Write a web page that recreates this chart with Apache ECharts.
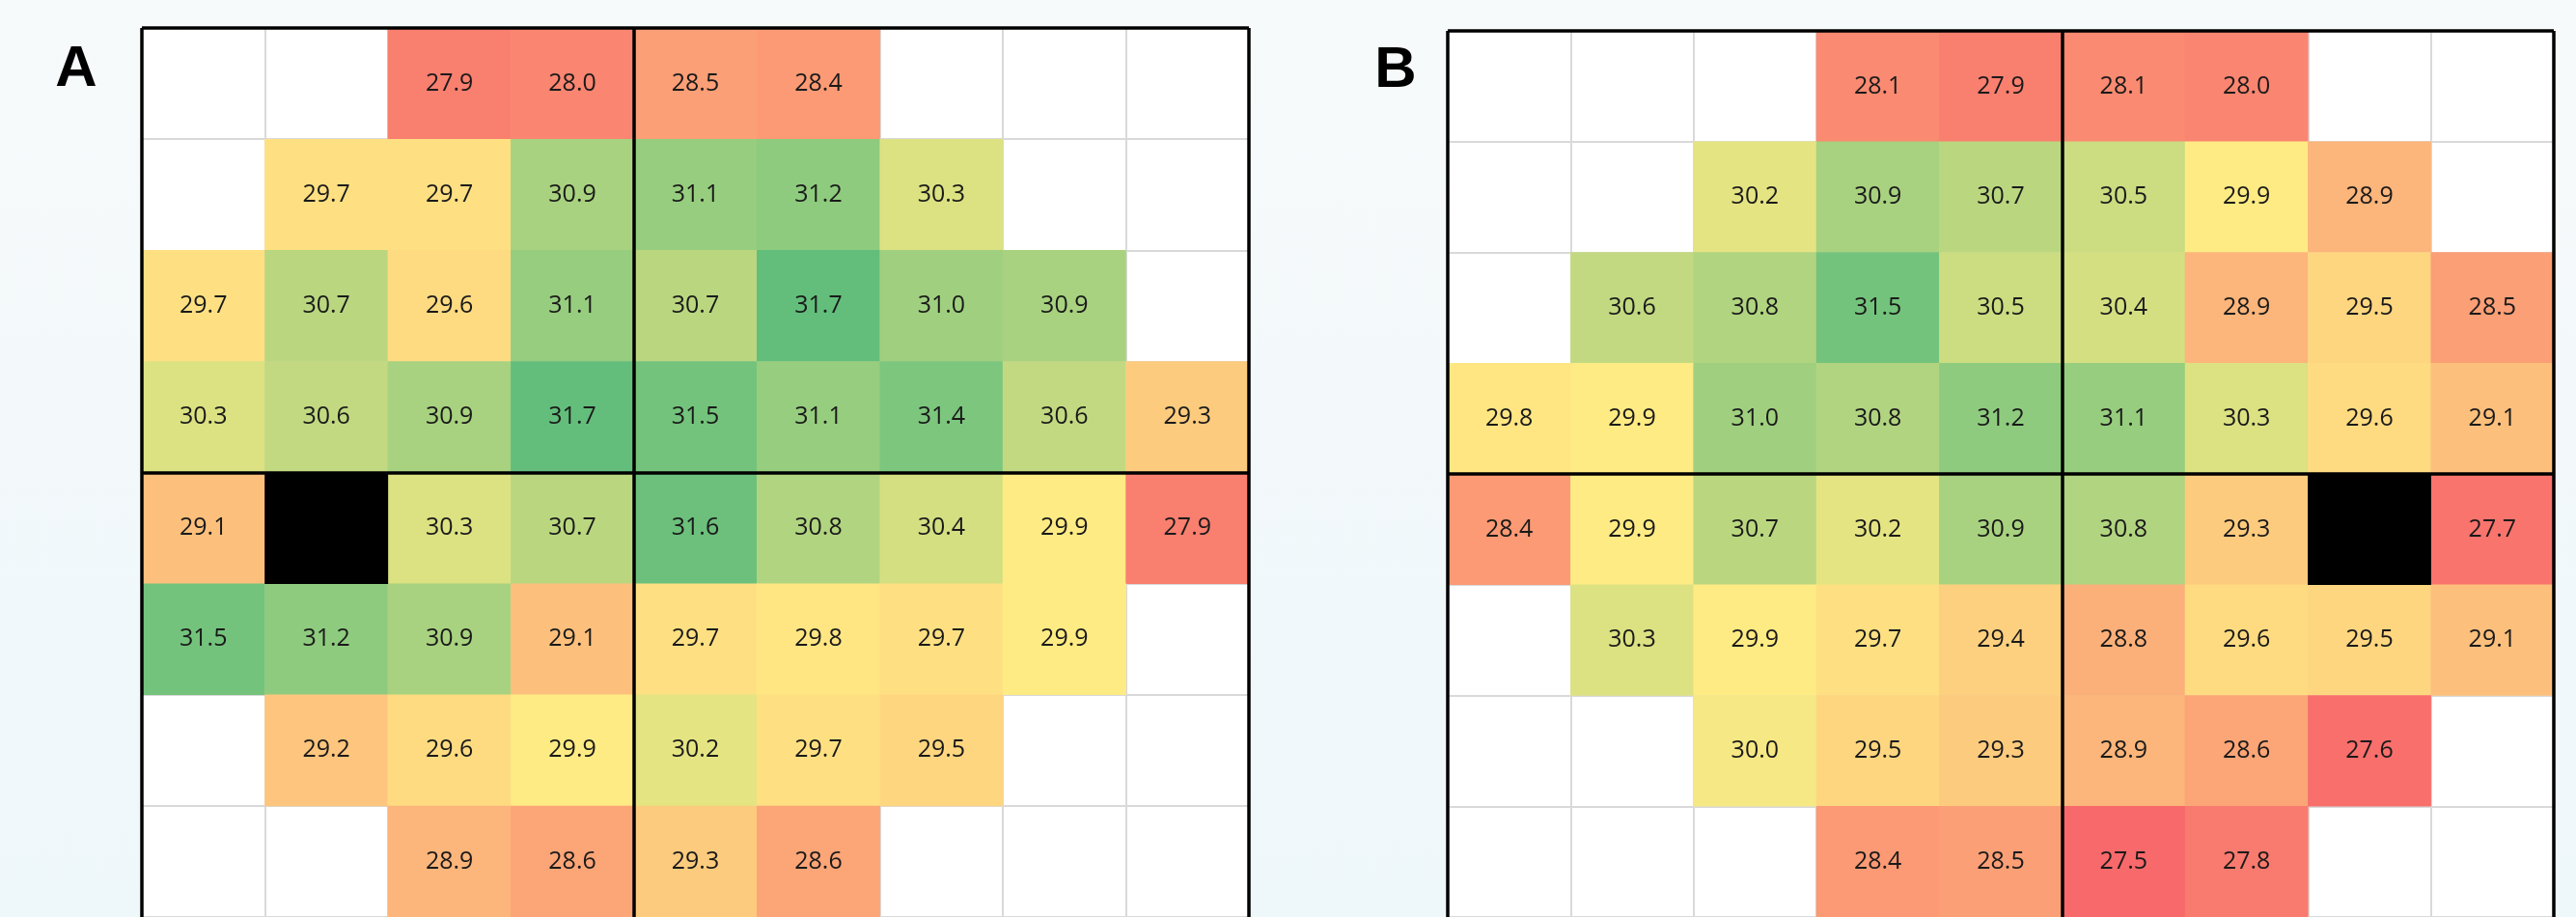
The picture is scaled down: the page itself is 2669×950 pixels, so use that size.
<!DOCTYPE html>
<html>
<head>
<meta charset="utf-8">
<script src="https://cdn.jsdelivr.net/npm/echarts@6/dist/echarts.min.js"></script>
<style>
  html, body { margin: 0; padding: 0; }
  body { background: linear-gradient(to bottom, #f7fafb, #eef7fa); }
  #main { width: 2669px; height: 950px; }
</style>
</head>
<body>
<div id="main"></div>
<script>
// grid values, top row first; null = not tested, 'X' = blind spot
var panelA = [
  [null, null, 27.9, 28.0, 28.5, 28.4, null, null, null],
  [null, 29.7, 29.7, 30.9, 31.1, 31.2, 30.3, null, null],
  [29.7, 30.7, 29.6, 31.1, 30.7, 31.7, 31.0, 30.9, null],
  [30.3, 30.6, 30.9, 31.7, 31.5, 31.1, 31.4, 30.6, 29.3],
  [29.1, 'X', 30.3, 30.7, 31.6, 30.8, 30.4, 29.9, 27.9],
  [31.5, 31.2, 30.9, 29.1, 29.7, 29.8, 29.7, 29.9, null],
  [null, 29.2, 29.6, 29.9, 30.2, 29.7, 29.5, null, null],
  [null, null, 28.9, 28.6, 29.3, 28.6, null, null, null]
];
var panelB = [
  [null, null, null, 28.1, 27.9, 28.1, 28.0, null, null],
  [null, null, 30.2, 30.9, 30.7, 30.5, 29.9, 28.9, null],
  [null, 30.6, 30.8, 31.5, 30.5, 30.4, 28.9, 29.5, 28.5],
  [29.8, 29.9, 31.0, 30.8, 31.2, 31.1, 30.3, 29.6, 29.1],
  [28.4, 29.9, 30.7, 30.2, 30.9, 30.8, 29.3, 'X', 27.7],
  [null, 30.3, 29.9, 29.7, 29.4, 28.8, 29.6, 29.5, 29.1],
  [null, null, 30.0, 29.5, 29.3, 28.9, 28.6, 27.6, null],
  [null, null, null, 28.4, 28.5, 27.5, 27.8, null, null]
];
// quadrant split (column, row) for each panel
var splitA = [4, 4];
var splitB = [5, 4];
var nCols = 9, nRows = 8;

// Excel style red - yellow - green scale
var scaleMin = 27.5, scaleMax = 31.7;
var scaleColors = ['#f8696b', '#fa8a71', '#fcaa78', '#fdcb7e', '#ffeb84', '#cbdc81', '#97cd7e', '#63be7b'];

function cells(panel) {
  var out = [];
  for (var r = 0; r < panel.length; r++) {
    for (var c = 0; c < panel[r].length; c++) {
      var v = panel[r][c];
      if (typeof v === 'number') out.push([c, r, v]);
    }
  }
  return out;
}
function blind(panel) {
  var out = [];
  for (var r = 0; r < panel.length; r++) {
    for (var c = 0; c < panel[r].length; c++) {
      if (panel[r][c] === 'X') out.push([c, r, 0]);
    }
  }
  return out;
}
function idx(n) {
  var a = [];
  for (var i = 0; i < n; i++) a.push(String(i));
  return a;
}

var lineStyle = { color: '#d9d9d9', width: 2 };
function catAxis(gi, n, inverse) {
  return {
    type: 'category', gridIndex: gi, data: idx(n), inverse: inverse,
    axisLine: { show: false }, axisTick: { show: false }, axisLabel: { show: false },
    splitLine: { show: true, interval: 0, lineStyle: lineStyle }
  };
}
function valAxis(gi, max, inverse) {
  return { type: 'value', gridIndex: gi, min: 0, max: max, inverse: inverse, show: false };
}
function heat(xi, yi, data) {
  return {
    type: 'heatmap', xAxisIndex: xi, yAxisIndex: yi, data: data,
    label: {
      show: true, color: '#1a1a1a', fontSize: 25, fontFamily: 'Open Sans',
      formatter: function(p) { return p.value[2].toFixed(1); }
    },
    emphasis: { disabled: true }
  };
}
function blindSeries(xi, yi, data) {
  return {
    type: 'heatmap', xAxisIndex: xi, yAxisIndex: yi, data: data,
    itemStyle: { color: '#000' }, label: { show: false }, emphasis: { disabled: true }
  };
}
function frame(xi, yi, split) {
  return {
    type: 'line', xAxisIndex: xi, yAxisIndex: yi, data: [], silent: true,
    markLine: {
      silent: true, symbol: ['none', 'none'], animation: false,
      label: { show: false },
      lineStyle: { color: '#000', width: 3.5, type: 'solid' },
      data: [{ xAxis: 0 }, { xAxis: split[0] }, { xAxis: nCols }, { yAxis: 0 }, { yAxis: split[1] }]
    }
  };
}

var chart = echarts.init(document.getElementById('main'));
chart.setOption({
  backgroundColor: 'transparent',
  animation: false,
  graphic: [
    { type: 'text', x: 79, y: 72, style: { text: 'A', font: 'bold 60px "Liberation Sans"', fill: '#000', align: 'center', verticalAlign: 'middle' } },
    { type: 'text', x: 1446, y: 73, style: { text: 'B', font: 'bold 60px "Liberation Sans"', fill: '#000', align: 'center', verticalAlign: 'middle' } }
  ],
  grid: [
    { left: 147, top: 29, width: 1147, height: 939, show: true, backgroundColor: '#fff', borderWidth: 0 },
    { left: 1500, top: 32, width: 1146, height: 938, show: true, backgroundColor: '#fff', borderWidth: 0 }
  ],
  xAxis: [catAxis(0, nCols, false), catAxis(1, nCols, false), valAxis(0, nCols, false), valAxis(1, nCols, false)],
  yAxis: [catAxis(0, nRows, true), catAxis(1, nRows, true), valAxis(0, nRows, true), valAxis(1, nRows, true)],
  visualMap: {
    show: false, type: 'continuous', seriesIndex: [0, 3],
    min: scaleMin, max: scaleMax, dimension: 2,
    inRange: { color: scaleColors }
  },
  series: [
    heat(0, 0, cells(panelA)),
    blindSeries(0, 0, blind(panelA)),
    frame(2, 2, splitA),
    heat(1, 1, cells(panelB)),
    blindSeries(1, 1, blind(panelB)),
    frame(3, 3, splitB)
  ]
});
</script>
</body>
</html>
